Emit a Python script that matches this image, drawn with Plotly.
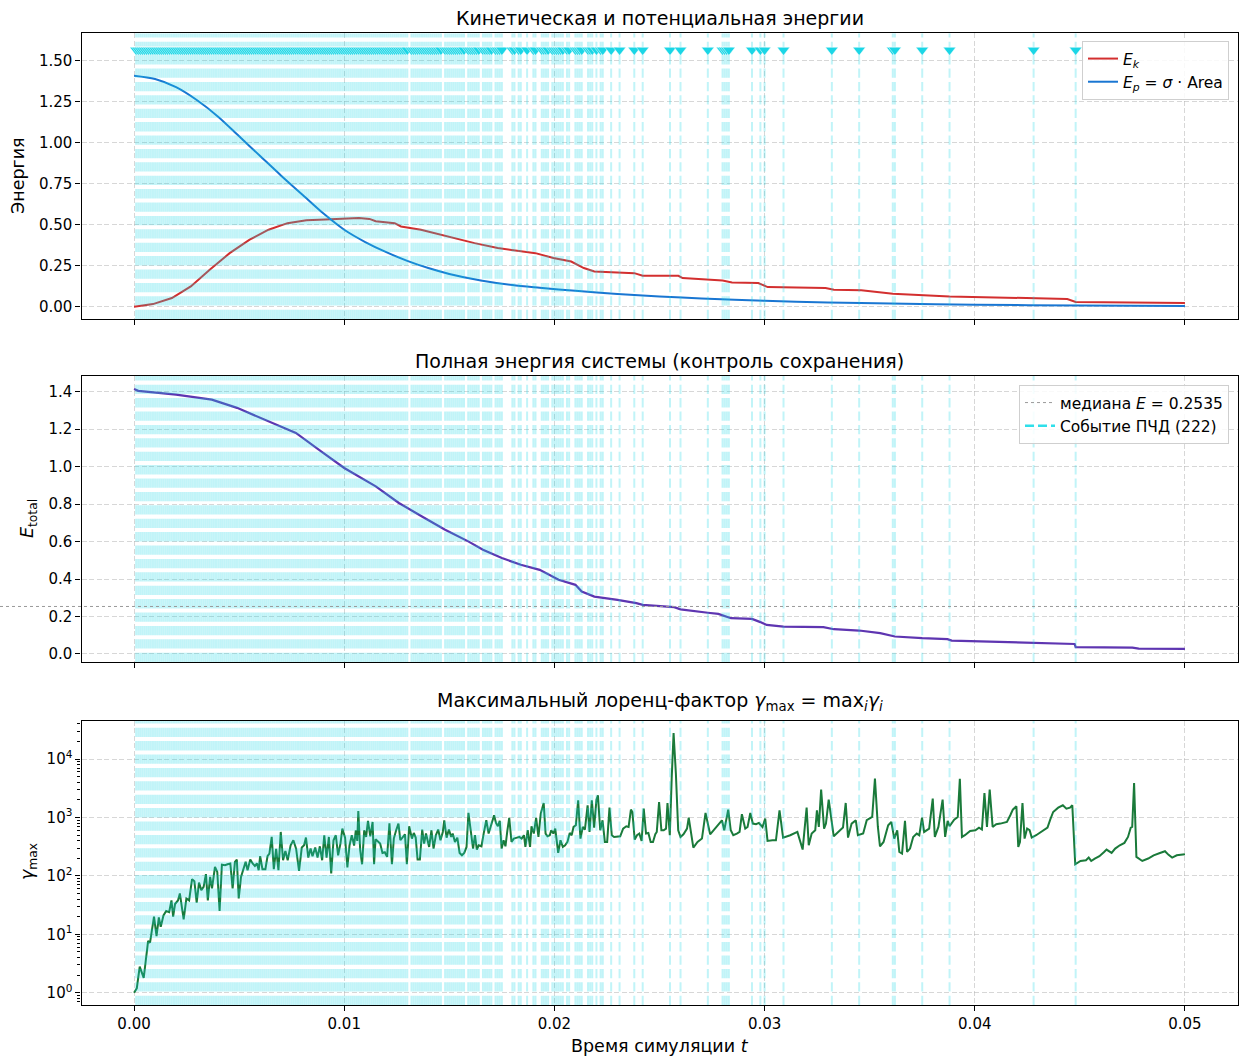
import plotly.graph_objects as go

# ---------------- data ----------------
ek_t = [0.0, 0.0009, 0.0018, 0.0027, 0.0036, 0.00455, 0.0055, 0.0064, 0.0073, 0.0082, 0.0091, 0.0100,
        0.0107, 0.0112, 0.0115, 0.0124, 0.0127, 0.01365, 0.01456, 0.01547, 0.0162, 0.0173, 0.0182,
        0.0191, 0.01995, 0.0208, 0.0214, 0.0219, 0.0238, 0.0242, 0.0259, 0.0261, 0.0280, 0.02845,
        0.0297, 0.03015, 0.0329, 0.0333, 0.0346, 0.0361, 0.0388, 0.0405, 0.0427, 0.0444, 0.0448,
        0.0478, 0.0500]
ek = [0.0, 0.016, 0.053, 0.124, 0.226, 0.327, 0.409, 0.47, 0.51, 0.528, 0.532, 0.538,
      0.542, 0.536, 0.522, 0.51, 0.49, 0.47, 0.44, 0.413, 0.388, 0.358, 0.343,
      0.327, 0.297, 0.276, 0.236, 0.215, 0.205, 0.189, 0.189, 0.175, 0.16, 0.148,
      0.144, 0.12, 0.114, 0.104, 0.1, 0.079, 0.063, 0.059, 0.053, 0.047, 0.029,
      0.026, 0.023]

ep_t = [0.0, 0.001, 0.002, 0.003, 0.004, 0.005, 0.006, 0.007, 0.008, 0.009, 0.010, 0.011, 0.012,
        0.013, 0.014, 0.015, 0.0165, 0.018, 0.0193, 0.021, 0.023, 0.025, 0.027, 0.030, 0.033,
        0.036, 0.040, 0.045, 0.050]
ep = [1.41, 1.39, 1.34, 1.26, 1.16, 1.04, 0.92, 0.80, 0.685, 0.57, 0.47, 0.395, 0.333,
      0.28, 0.236, 0.20, 0.16, 0.132, 0.116, 0.097, 0.078, 0.063, 0.05, 0.036, 0.026,
      0.019, 0.012, 0.007, 0.004]

etot_t = [0.0, 0.0002, 0.002, 0.0037, 0.0049, 0.0064, 0.0077, 0.0089, 0.0100, 0.0115, 0.0126,
          0.0137, 0.0148, 0.0159, 0.0166, 0.0175, 0.0184, 0.0193, 0.0202, 0.0210, 0.0213, 0.0219,
          0.0230, 0.0239, 0.0242, 0.0257, 0.0260, 0.0273, 0.0278, 0.0284, 0.0294, 0.0298, 0.0301,
          0.0309, 0.0328, 0.0333, 0.0345, 0.0355, 0.0362, 0.0375, 0.0387, 0.0389, 0.0406, 0.0428,
          0.04475, 0.0448, 0.0475, 0.0478, 0.0500]
etot = [1.415, 1.405, 1.385, 1.358, 1.314, 1.242, 1.18, 1.082, 0.993, 0.895, 0.806,
        0.734, 0.663, 0.601, 0.556, 0.512, 0.476, 0.449, 0.396, 0.369, 0.333, 0.306,
        0.289, 0.271, 0.262, 0.25, 0.238, 0.22, 0.214, 0.191, 0.187, 0.17, 0.155,
        0.146, 0.143, 0.132, 0.125, 0.111, 0.093, 0.084, 0.079, 0.071, 0.066, 0.057,
        0.053, 0.036, 0.034, 0.028, 0.027]

gam_t = [0.0, 0.00013, 0.00027, 0.00046, 0.00067, 0.00076, 0.00095, 0.00107, 0.00118, 0.00127,
         0.0014, 0.00153, 0.00167, 0.00178, 0.00186, 0.00195, 0.00209, 0.00218, 0.00236, 0.00249,
         0.00262, 0.00276, 0.00287, 0.00298, 0.00309, 0.0032, 0.00331, 0.00342, 0.00351, 0.00362,
         0.00371, 0.00385, 0.00396, 0.00407, 0.00418, 0.00433, 0.00445, 0.00458, 0.00469, 0.0048,
         0.00489, 0.00498, 0.00509, 0.00522, 0.00531, 0.0054, 0.00553, 0.00564, 0.00575, 0.00585,
         0.00593, 0.006, 0.00611, 0.00625, 0.00635, 0.00644, 0.00655, 0.00665, 0.00676, 0.00687,
         0.00698, 0.00709, 0.0072, 0.00731, 0.00745, 0.00758, 0.00771, 0.00785, 0.00798, 0.00809,
         0.00818, 0.00829, 0.0084, 0.00849, 0.00862, 0.00873, 0.00884, 0.00895, 0.00905, 0.00916,
         0.00927, 0.00938, 0.00949, 0.0096, 0.00971, 0.00982, 0.00991, 0.01004, 0.01015, 0.01025,
         0.01036, 0.01047, 0.01055, 0.01062, 0.01067, 0.01076, 0.01085, 0.01095, 0.01104, 0.01113,
         0.01124, 0.01135, 0.01142, 0.01149, 0.0116, 0.01171, 0.01182, 0.01193, 0.01204, 0.01215,
         0.01227, 0.01236, 0.01247, 0.01258, 0.01267, 0.0128, 0.01289, 0.01298, 0.01309, 0.01322,
         0.01331, 0.0134, 0.01349, 0.0136, 0.01371, 0.0138, 0.01389, 0.01404, 0.01415, 0.01425,
         0.01436, 0.01447, 0.01458, 0.01469, 0.01476, 0.01487, 0.01498, 0.01509, 0.01516, 0.01527,
         0.01538, 0.01549, 0.0156, 0.01571, 0.01582, 0.01591, 0.016, 0.01613, 0.01622, 0.01631,
         0.0164, 0.01653, 0.01664, 0.01676, 0.01687, 0.01698, 0.01713, 0.01722, 0.01731, 0.0174,
         0.01749, 0.01758, 0.01767, 0.01776, 0.01785, 0.01796, 0.01807, 0.01822, 0.01833, 0.01844,
         0.01855, 0.01862, 0.01873, 0.01884, 0.01891, 0.01902, 0.01913, 0.01924, 0.01935, 0.01949,
         0.01958, 0.01967, 0.01978, 0.01985, 0.01995, 0.02004, 0.02018, 0.02029, 0.0204, 0.02051,
         0.02062, 0.02073, 0.02082, 0.02091, 0.02102, 0.02113, 0.02124, 0.02135, 0.02145, 0.02158,
         0.02167, 0.02178, 0.02189, 0.022, 0.02207, 0.02218, 0.02229, 0.0224, 0.02251, 0.02262,
         0.02273, 0.02284, 0.02298, 0.02313, 0.02327, 0.02342, 0.02353, 0.02364, 0.02371, 0.02382,
         0.02393, 0.02404, 0.02415, 0.02425, 0.02436, 0.02447, 0.02458, 0.02469, 0.0248, 0.02487,
         0.02498, 0.02509, 0.0252, 0.02531, 0.02538, 0.02549, 0.02558, 0.02567, 0.02578, 0.02589,
         0.026, 0.02614, 0.02631, 0.02639, 0.02661, 0.02681, 0.02702, 0.02719, 0.02741, 0.02758,
         0.02783, 0.02797, 0.02808, 0.02817, 0.02827, 0.02839, 0.02851, 0.02868, 0.02881, 0.02892,
         0.02908, 0.02919, 0.02932, 0.02944, 0.02959, 0.02973, 0.0299, 0.03003, 0.03014, 0.03037,
         0.03054, 0.03071, 0.03088, 0.03122, 0.03156, 0.03181, 0.032, 0.0321, 0.03224, 0.03241,
         0.03249, 0.03258, 0.03269, 0.03283, 0.03292, 0.03305, 0.03317, 0.03329, 0.03359, 0.03373,
         0.03386, 0.03397, 0.03414, 0.03434, 0.03444, 0.03469, 0.03486, 0.03512, 0.03525, 0.03539,
         0.03549, 0.03566, 0.03588, 0.03603, 0.03617, 0.03631, 0.03641, 0.03654, 0.03668, 0.03678,
         0.03692, 0.03707, 0.03724, 0.03736, 0.03749, 0.03759, 0.03783, 0.038, 0.0381, 0.03827,
         0.03847, 0.03859, 0.03871, 0.0388, 0.03902, 0.03919, 0.03929, 0.03939, 0.03953, 0.03978,
         0.04003, 0.0402, 0.04034, 0.04046, 0.04058, 0.04071, 0.04085, 0.04102, 0.04122, 0.04153,
         0.04169, 0.04181, 0.04198, 0.04207, 0.04215, 0.04227, 0.04237, 0.04249, 0.04261, 0.04271,
         0.04292, 0.04325, 0.04346, 0.04359, 0.04373, 0.04397, 0.04419, 0.04436, 0.04453, 0.04464,
         0.04478, 0.04503, 0.04529, 0.04542, 0.04554, 0.04571, 0.04593, 0.04614, 0.04627, 0.04651,
         0.04668, 0.0469, 0.04712, 0.04729, 0.04742, 0.04749, 0.04758, 0.04769, 0.04797, 0.04825,
         0.04851, 0.04881, 0.04905, 0.04922, 0.04939, 0.04961, 0.0499, 0.05]
gam = [1.0, 1.19, 2.8, 1.8, 7.7, 7.2, 20, 9.3, 19.4, 13.4,
       21, 25, 24, 38, 20, 33, 38, 50, 18, 41,
       38, 88, 81, 35, 77, 57, 65, 107, 38, 96,
       61, 143, 117, 25, 156, 152, 158, 163, 61, 174,
       190, 41, 96, 143, 174, 125, 190, 163, 148, 163,
       125, 217, 130, 130, 217, 241, 464, 130, 290, 125,
       565, 185, 267, 185, 334, 407, 293, 122, 305, 334,
       452, 206, 293, 217, 305, 206, 321, 185, 496, 206,
       464, 110, 407, 496, 225, 357, 644, 452, 139, 330,
       496, 330, 604, 396, 1290, 275, 158, 604, 464, 872,
       476, 838, 158, 424, 381, 357, 247, 254, 211, 795,
       158, 435, 604, 785, 407, 464, 515, 158, 706, 435,
       543, 452, 190, 190, 620, 357, 530, 313, 604, 293,
       496, 620, 407, 565, 895, 452, 620, 464, 530, 381,
       452, 247, 225, 247, 313, 1195, 688, 293, 496, 282,
       334, 321, 543, 895, 530, 735, 1090, 805, 706, 872,
       293, 407, 321, 588, 980, 381, 435, 452, 464, 435,
       496, 313, 604, 313, 706, 530, 980, 464, 1165, 1770,
       530, 476, 496, 604, 530, 644, 247, 407, 313, 334,
       381, 543, 496, 688, 735, 1965, 435, 688, 620, 1615,
       565, 1965, 670, 2020, 2390, 604, 895, 381, 381, 1470,
       496, 464, 464, 476, 644, 706, 688, 1360, 1240, 418,
       496, 530, 396, 1415, 530, 543, 381, 381, 515, 565,
       1840, 604, 604, 644, 1770, 496, 4610, 27800, 5610, 604,
       464, 515, 644, 995, 305, 381, 435, 1195, 515, 604,
       785, 895, 604, 918, 1360, 604, 496, 530, 565, 1135,
       644, 688, 1195, 785, 764, 805, 688, 955, 396, 407,
       407, 1325, 452, 496, 565, 282, 1470, 334, 530, 604,
       1325, 688, 2990, 644, 785, 2020, 895, 476, 604, 670,
       1770, 452, 785, 895, 496, 530, 895, 1020, 4610, 688,
       321, 381, 735, 838, 435, 604, 257, 241, 872, 257,
       293, 464, 530, 496, 995, 565, 644, 2100, 464, 688,
       2020, 464, 872, 706, 918, 1020, 4610, 464, 496, 588,
       604, 670, 620, 2620, 688, 2990, 688, 764, 785, 838,
       1090, 1360, 1550, 313, 381, 1770, 435, 644, 604, 452,
       496, 604, 670, 918, 1240, 1470, 1615, 1415, 1470, 1615,
       158, 180, 185, 206, 180, 198, 217, 254, 282, 247,
       293, 334, 367, 464, 670, 688, 3890, 211, 180, 198,
       225, 247, 264, 229, 206, 225, 235, 235]

event_t = [
    0.0001, 0.0002, 0.0003, 0.0004, 0.0005, 0.0006, 0.0007, 0.0008, 0.0009, 0.0010,
    0.0011, 0.0012, 0.0013, 0.0014, 0.0015, 0.0016, 0.0017, 0.0018, 0.0019, 0.0020,
    0.0021, 0.0022, 0.0023, 0.0024, 0.0025, 0.0026, 0.0027, 0.0028, 0.0029, 0.0030,
    0.0031, 0.0032, 0.0033, 0.0034, 0.0035, 0.0036, 0.0037, 0.0038, 0.0039, 0.0040,
    0.0041, 0.0042, 0.0043, 0.0044, 0.0045, 0.0046, 0.0047, 0.0048, 0.0049, 0.0050,
    0.0051, 0.0052, 0.0053, 0.0054, 0.0055, 0.0056, 0.0057, 0.0058, 0.0059, 0.0060,
    0.0061, 0.0062, 0.0063, 0.0064, 0.0065, 0.0066, 0.0067, 0.0068, 0.0069, 0.0070,
    0.0071, 0.0072, 0.0073, 0.0074, 0.0075, 0.0076, 0.0077, 0.0078, 0.0079, 0.0080,
    0.0081, 0.0082, 0.0083, 0.0084, 0.0085, 0.0086, 0.0087, 0.0088, 0.0089, 0.0090,
    0.0091, 0.0092, 0.0093, 0.0094, 0.0095, 0.0096, 0.0097, 0.0098, 0.0099, 0.0100,
    0.0101, 0.0102, 0.0103, 0.0104, 0.0105, 0.0106, 0.0107, 0.0108, 0.0109, 0.0110,
    0.0111, 0.0112, 0.0113, 0.0114, 0.0115, 0.0116, 0.0117, 0.0118, 0.0119, 0.0120,
    0.0121, 0.0122, 0.0123, 0.0124, 0.0125, 0.0126, 0.0127, 0.0128, 0.0129, 0.0130,
    0.0132, 0.0133, 0.0134, 0.0135, 0.0136, 0.0137, 0.0138, 0.0139, 0.0140, 0.0141,
    0.0142, 0.0143, 0.0144, 0.0145, 0.0146,
    0.0148, 0.0149, 0.0150, 0.0151, 0.0152, 0.0153, 0.0154, 0.0155, 0.0156, 0.0157,
    0.0159, 0.0160, 0.0161, 0.0162, 0.0163, 0.0164,
    0.0166, 0.0167, 0.0168, 0.0169, 0.0170,
    0.0172, 0.0173, 0.0174, 0.0175,
    0.0180, 0.0181, 0.0183, 0.0184, 0.0187, 0.0190, 0.0191,
    0.0194, 0.0195, 0.0196, 0.0197, 0.0199, 0.0200, 0.0201, 0.0202, 0.0203, 0.0204,
    0.0206, 0.0207, 0.0210, 0.0211, 0.0212, 0.0213, 0.0216, 0.0217, 0.0218,
    0.0220, 0.0222, 0.0223, 0.0227, 0.0231, 0.0238, 0.0242, 0.0255, 0.0260,
    0.0273, 0.0280, 0.0281, 0.0282, 0.0283, 0.0294, 0.0298, 0.0300, 0.0309,
    0.0332, 0.0345, 0.0361, 0.0362, 0.0375, 0.0388, 0.0428, 0.0448,
]
n_events_label = 222
median_E = 0.2535

x_ticks = [0.0, 0.01, 0.02, 0.03, 0.04, 0.05]
y1_ticks = [0.0, 0.25, 0.5, 0.75, 1.0, 1.25, 1.5]
y2_ticks = [0.0, 0.2, 0.4, 0.6, 0.8, 1.0, 1.2, 1.4]
y3_ticks = [1, 10, 100, 1000, 10000]
y3_ticktext = ["10<sup>0</sup>", "10<sup>1</sup>", "10<sup>2</sup>", "10<sup>3</sup>", "10<sup>4</sup>"]

# ---------------- style ----------------
W, H = 1240, 1056
FONT = "DejaVu Sans"
C_EK = "#d32f2f"
C_EP = "#1976d2"
C_ET = "#5e35b1"
C_G = "#1a7a3a"
C_EV = "#1ad6e6"
C_EV_LINE = "rgba(26,214,230,0.27)"

XR = [-0.0025, 0.0525]
Y1R = [-0.075, 1.669]
Y2R = [-0.043, 1.484]
Y3R = [-0.21, 4.656]
TRI_Y = 1.567

dom_x = [81.5 / W, 1237.5 / W]
dom_y1 = [1 - 319 / H, 1 - 33.3 / H]
dom_y2 = [1 - 662 / H, 1 - 376 / H]
dom_y3 = [1 - 1005 / H, 1 - 720.7 / H]


def vlines(ts, y0, y1):
    xs, ys = [], []
    for t in ts:
        xs += [t, t, None]
        ys += [y0, y1, None]
    return xs, ys


fig = go.Figure()

# --- panel 1 ---
fig.add_trace(go.Scatter(x=ek_t, y=ek, mode="lines", line=dict(color=C_EK, width=2),
                         name="<i>E</i><sub><i>k</i></sub>", xaxis="x", yaxis="y", legend="legend"))
fig.add_trace(go.Scatter(x=ep_t, y=ep, mode="lines", line=dict(color=C_EP, width=2, shape="spline", smoothing=0.8),
                         name="<i>E</i><sub><i>p</i></sub> = <i>σ</i> · Area", xaxis="x", yaxis="y",
                         legend="legend"))
vx, vy = vlines(event_t, Y1R[0], Y1R[1])
fig.add_trace(go.Scatter(x=vx, y=vy, mode="lines", line=dict(color=C_EV_LINE, width=2, dash="9.3px,4.1px"),
                         showlegend=False, hoverinfo="skip", xaxis="x", yaxis="y"))
fig.add_trace(go.Scatter(x=event_t, y=[TRI_Y] * len(event_t), mode="markers",
                         marker=dict(symbol="triangle-down", size=11, color=C_EV,
                                     line=dict(color="white", width=0.5)),
                         showlegend=False, hoverinfo="skip", xaxis="x", yaxis="y"))

# --- panel 2 ---
fig.add_trace(go.Scatter(x=etot_t, y=etot, mode="lines", line=dict(color=C_ET, width=2.2),
                         showlegend=False, xaxis="x2", yaxis="y2"))
vx, vy = vlines(event_t, Y2R[0], Y2R[1])
fig.add_trace(go.Scatter(x=vx, y=vy, mode="lines", line=dict(color=C_EV_LINE, width=2, dash="9.3px,4.1px"),
                         showlegend=False, hoverinfo="skip", xaxis="x2", yaxis="y2"))
fig.add_trace(go.Scatter(x=[None], y=[None], mode="lines", line=dict(color="#9a9a9a", width=1, dash="dot"),
                         name="медиана <i>E</i> = %.4f" % median_E, xaxis="x2", yaxis="y2", legend="legend2"))
fig.add_trace(go.Scatter(x=[None], y=[None], mode="lines", line=dict(color="#2fdfea", width=2.5, dash="9px,4px"),
                         name="Событие ПЧД (%d)" % n_events_label, xaxis="x2", yaxis="y2", legend="legend2"))

# --- panel 3 ---
fig.add_trace(go.Scatter(x=gam_t, y=gam, mode="lines", line=dict(color=C_G, width=2),
                         showlegend=False, xaxis="x3", yaxis="y3"))
vx, vy = vlines(event_t, 10 ** Y3R[0], 10 ** Y3R[1])
fig.add_trace(go.Scatter(x=vx, y=vy, mode="lines", line=dict(color=C_EV_LINE, width=2, dash="9.3px,4.1px"),
                         showlegend=False, hoverinfo="skip", xaxis="x3", yaxis="y3"))

axis_common = dict(
    showline=True, linecolor="black", linewidth=1.2, mirror=True,
    ticks="outside", ticklen=5, tickwidth=1.1, tickcolor="black",
    showgrid=True, gridcolor="rgba(176,176,176,0.5)", gridwidth=0.9, griddash="5px,2.5px",
    zeroline=False, tickfont=dict(family=FONT, size=15, color="black"),
)

layout_axes = dict(
    xaxis=dict(domain=dom_x, anchor="y", range=XR, tickvals=x_ticks, showticklabels=False, **axis_common),
    xaxis2=dict(domain=dom_x, anchor="y2", range=XR, tickvals=x_ticks, showticklabels=False, **axis_common),
    xaxis3=dict(domain=dom_x, anchor="y3", range=XR, tickvals=x_ticks, tickformat=".2f", **axis_common),
    yaxis=dict(domain=dom_y1, anchor="x", range=Y1R, tickvals=y1_ticks, tickformat=".2f", **axis_common),
    yaxis2=dict(domain=dom_y2, anchor="x2", range=Y2R, tickvals=y2_ticks, tickformat=".1f", **axis_common),
    yaxis3=dict(domain=dom_y3, anchor="x3", type="log", range=Y3R, tickvals=y3_ticks, ticktext=y3_ticktext,
                minor=dict(tickvals=[m * 10 ** e for e in range(-1, 5) for m in range(2, 10)],
                           ticks="outside", ticklen=3, tickwidth=0.8, tickcolor="black", showgrid=False),
                **axis_common),
)

legend_style = dict(bgcolor="rgba(255,255,255,0.85)", bordercolor="#cfcfcf", borderwidth=1,
                    font=dict(family=FONT, size=15.5, color="black"), xanchor="right", yanchor="top",
                    tracegroupgap=2, itemwidth=30)

title_font = dict(family=FONT, size=19, color="black")
label_font = dict(family=FONT, size=17.5, color="black")
xc = (dom_x[0] + dom_x[1]) / 2
annotations = [
    dict(text="Кинетическая и потенциальная энергии", x=xc, y=1 - 18 / H, font=title_font),
    dict(text="Полная энергия системы (контроль сохранения)", x=xc, y=1 - 361 / H, font=title_font),
    dict(text="Максимальный лоренц-фактор <i>γ</i><sub>max</sub> = max<sub><i>i</i></sub><i>γ</i><sub><i>i</i></sub>",
         x=xc, y=1 - 701 / H, font=title_font),
    dict(text="Энергия", x=18 / W, y=1 - 176 / H, textangle=-90, font=label_font),
    dict(text="<i>E</i><sub>total</sub>", x=28 / W, y=1 - 519 / H, textangle=-90, font=label_font),
    dict(text="<i>γ</i><sub>max</sub>", x=28 / W, y=1 - 862 / H, textangle=-90, font=label_font),
    dict(text="Время симуляции <i>t</i>", x=xc, y=1 - 1046 / H, font=label_font),
]
for a in annotations:
    a.update(xref="paper", yref="paper", showarrow=False, xanchor="center", yanchor="middle")

fig.update_layout(
    width=W, height=H, margin=dict(l=0, r=0, t=0, b=0),
    paper_bgcolor="white", plot_bgcolor="white",
    font=dict(family=FONT, size=15, color="black"),
    legend=dict(x=1229 / W, y=1 - 41 / H, **legend_style),
    legend2=dict(x=1229 / W, y=1 - 385 / H, **legend_style),
    annotations=annotations,
    shapes=[dict(type="line", xref="paper", x0=0, x1=1, yref="y2", y0=median_E, y1=median_E,
                 line=dict(color="#9a9a9a", width=1, dash="dot"), layer="above")],
    hovermode=False,
    **layout_axes,
)

fig.write_html("out.html", config={"displayModeBar": False},
               post_script="document.body.style.margin='0';document.body.style.overflow='hidden';")
